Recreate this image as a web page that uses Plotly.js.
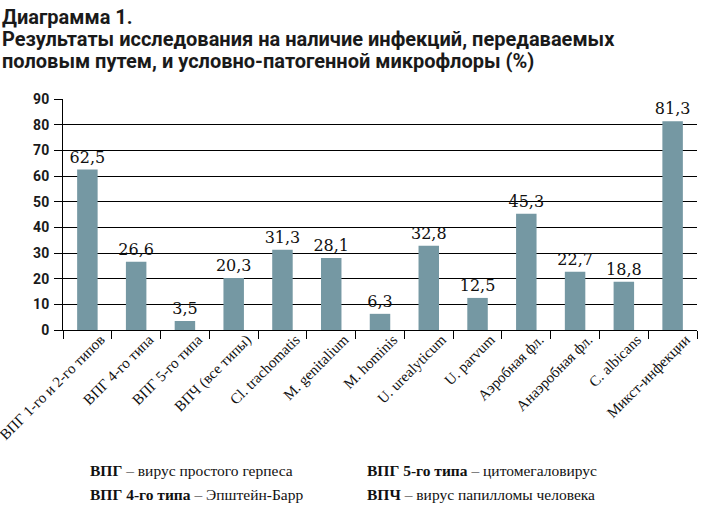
<!DOCTYPE html>
<html>
<head>
<meta charset="utf-8">
<script src="https://cdn.plot.ly/plotly-3.0.1.min.js"></script>
<style>html,body{margin:0;padding:0;background:#fff;}#chart{width:703px;height:524px;}</style>
</head>
<body>
<div id="chart"></div>
<script>
const categories = ["ВПГ 1-го и 2-го типов","ВПГ 4-го типа","ВПГ 5-го типа","ВПЧ (все типы)","Cl. trachomatis","M. genitalium","M. hominis","U. urealyticum","U. parvum","Аэробная фл.","Анаэробная фл.","C. albicans","Микст-инфекции"];
const values = [62.5,26.6,3.5,20.3,31.3,28.1,6.3,32.8,12.5,45.3,22.7,18.8,81.3];
const yTicks = [0,10,20,30,40,50,60,70,80,90];
const titleLines = ["Диаграмма 1.","Результаты исследования на наличие инфекций, передаваемых","половым путем, и условно-патогенной микрофлоры (%)"];
const notesLeft = ["<b>ВПГ</b> – вирус простого герпеса","<b>ВПГ 4-го типа</b> – Эпштейн-Барр"];
const notesRight = ["<b>ВПГ 5-го типа</b> – цитомегаловирус","<b>ВПЧ</b> – вирус папилломы человека"];

const trace = {
  type: 'bar',
  x: categories,
  y: values,
  marker: {color: '#7598a3'},
  texttemplate: '%{y:.1f}',
  textposition: 'outside',
  constraintext: 'none',
  cliponaxis: false,
  textfont: {family: 'DejaVu Serif, Liberation Serif, serif', size: 16, color: '#111'},
  hoverinfo: 'none'
};

const annotations = [];
titleLines.forEach((t, i) => {
  annotations.push({xref:'paper', yref:'paper', x: -63/634, y: 1 + (99 - (17 + i*22))/231,
    xanchor:'left', yanchor:'middle', showarrow:false, align:'left',
    text: '<b>' + t + '</b>', font:{family:'Roboto, Open Sans, sans-serif', size:20, color:'#1a1a1a'}});
});
notesLeft.forEach((t, i) => {
  annotations.push({xref:'paper', yref:'paper', x: (88-63)/634, y: -(470 + i*24 - 330)/231,
    xanchor:'left', yanchor:'middle', showarrow:false,
    text: t, font:{family:'Liberation Serif, serif', size:15.5, color:'#111'}});
});
notesRight.forEach((t, i) => {
  annotations.push({xref:'paper', yref:'paper', x: (365-63)/634, y: -(470 + i*24 - 330)/231,
    xanchor:'left', yanchor:'middle', showarrow:false,
    text: t, font:{family:'Liberation Serif, serif', size:15.5, color:'#111'}});
});

const layout = {
  width: 703, height: 524,
  margin: {l: 63, r: 6, t: 99, b: 194},
  paper_bgcolor: '#fff', plot_bgcolor: '#fff',
  separators: ', ',
  bargap: 0.58,
  showlegend: false,
  xaxis: {
    type: 'category',
    tickangle: -45,
    tickson: 'boundaries',
    ticks: 'outside', ticklen: 8, tickcolor: '#000', tickwidth: 1,
    showline: true, linecolor: '#000', linewidth: 1,
    showgrid: false,
    ticklabelshift: 13,
    ticklabelstandoff: -6,
    tickfont: {family: 'Liberation Serif, serif', size: 15, color: '#111'},
    fixedrange: true
  },
  yaxis: {
    range: [0, 90],
    tickvals: yTicks,
    ticktext: yTicks.map(String),
    ticks: 'outside', ticklen: 8, tickcolor: '#000',
    showline: true, linecolor: '#000', linewidth: 1,
    showgrid: true, gridcolor: '#000', gridwidth: 1,
    zeroline: false,
    tickfont: {family: 'Roboto, sans-serif', size: 14, color: '#1a1a1a', weight: 'bold'},
    ticklabelstandoff: 2,
    fixedrange: true
  },
  annotations: annotations
};

Plotly.newPlot('chart', [trace], layout, {displayModeBar: false, staticPlot: true});
</script>
</body>
</html>
